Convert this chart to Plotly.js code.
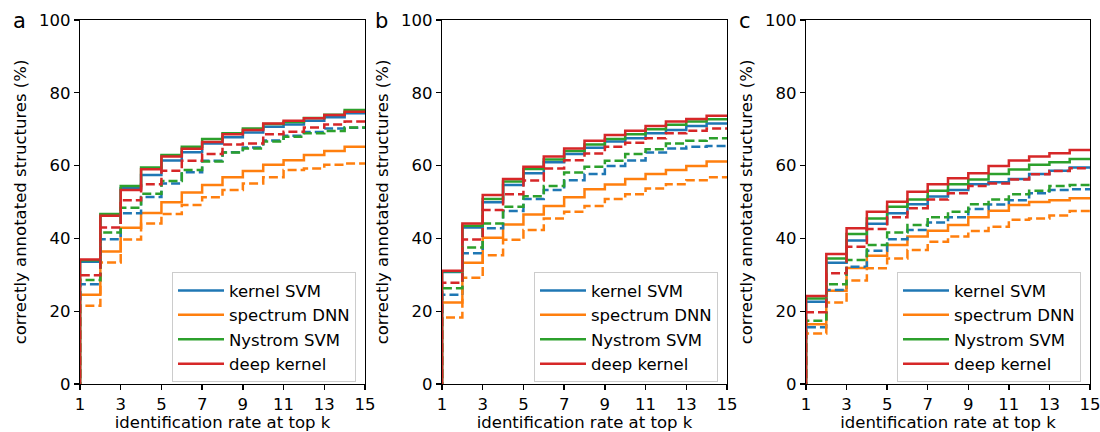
<!DOCTYPE html>
<html>
<head>
<meta charset="utf-8">
<script src="https://cdn.plot.ly/plotly-3.0.1.min.js"></script>
<style>html,body{margin:0;padding:0;background:#fff;}#chart{width:1100px;height:432px;}</style>
</head>
<body>
<div id="chart"></div>
<script>
// top-k values (k = 1..14), percent of correctly annotated structures
const topK = [1,2,3,4,5,6,7,8,9,10,11,12,13,14];
const xTicks = [1,3,5,7,9,11,13,15];
const yTicks = [0,20,40,60,80,100];
const methods = ["kernel SVM","spectrum DNN","Nystrom SVM","deep kernel"];
const panelLetters = ["a","b","c"];

// Panel a
const aKernelSVM      = [33.6,46.3,53.8,57.4,61.4,63.7,66.1,67.8,69.1,70.7,71.3,72.3,73.3,74.4];
const aSpectrumDNN    = [24.5,36.4,42.9,47.0,49.9,52.6,54.7,56.8,58.5,60.2,61.5,62.9,64.0,65.2];
const aNystromSVM     = [34.0,46.7,54.4,59.5,62.9,65.2,67.3,68.9,70.2,71.4,72.0,73.1,74.0,75.3];
const aDeepKernel     = [34.2,46.2,53.3,59.0,62.5,64.6,66.5,68.6,69.8,71.6,72.3,73.0,73.9,74.8];
const aKernelSVM2     = [27.4,39.8,46.9,51.4,55.1,58.2,61.3,63.7,65.0,66.9,68.2,69.2,70.2,70.4];
const aSpectrumDNN2   = [21.5,33.4,39.7,44.1,46.7,49.2,51.3,53.3,55.1,56.8,58.8,59.2,60.2,60.6];
const aNystromSVM2    = [28.6,41.6,48.4,52.3,55.8,58.8,61.1,63.6,64.7,66.6,67.9,68.9,69.5,70.5];
const aDeepKernel2    = [29.9,43.0,50.5,54.9,58.6,61.3,63.2,65.8,66.1,68.6,69.3,70.5,71.3,72.1];

// Panel b
const bKernelSVM      = [30.8,43.0,49.9,54.7,57.9,60.9,63.2,64.9,66.6,67.5,68.9,69.8,70.9,71.6];
const bSpectrumDNN    = [22.4,33.3,40.2,43.8,46.6,48.9,51.3,53.5,54.8,56.3,57.7,58.8,59.9,61.1];
const bNystromSVM     = [31.0,43.5,50.8,55.6,59.1,61.7,64.0,65.8,67.3,68.6,70.0,71.2,72.1,72.7];
const bDeepKernel     = [31.1,44.1,51.9,56.3,59.7,62.5,64.7,66.8,68.4,69.6,70.9,72.1,72.8,73.7];
const bKernelSVM2     = [24.5,35.9,42.8,47.5,50.8,53.3,56.0,57.7,59.9,61.4,63.6,64.7,65.2,65.4];
const bSpectrumDNN2   = [18.3,29.2,35.4,39.6,42.3,45.5,47.3,48.9,50.8,52.1,53.7,54.9,56.0,56.8];
const bNystromSVM2    = [26.3,37.5,44.1,48.7,51.6,54.4,58.1,59.7,61.3,63.2,64.5,66.1,66.8,67.5];
const bDeepKernel2    = [27.8,39.7,47.8,52.1,55.9,59.2,61.5,63.3,65.2,66.3,67.5,68.9,69.6,70.2];

// Panel c
const cKernelSVM      = [22.6,33.3,39.4,44.0,46.9,49.4,51.5,53.3,54.9,55.4,56.3,57.7,58.6,59.5];
const cSpectrumDNN    = [16.4,25.6,31.9,35.2,38.2,40.5,42.1,43.7,45.8,47.6,49.2,50.0,50.5,51.0];
const cNystromSVM     = [23.5,34.5,41.2,45.5,48.7,50.7,53.1,54.9,56.2,57.7,58.9,60.2,60.9,61.8];
const cDeepKernel     = [24.2,35.7,42.8,47.3,50.1,52.8,54.9,56.5,57.9,59.9,61.4,62.5,63.4,64.3];
const cKernelSVM2     = [15.6,25.8,32.2,36.6,39.8,42.3,44.4,45.8,48.1,49.3,50.5,52.4,53.3,53.5];
const cSpectrumDNN2   = [13.9,22.4,28.4,31.8,34.5,36.8,39.1,40.5,42.0,43.2,45.1,45.5,46.3,47.5];
const cNystromSVM2    = [17.4,27.4,34.1,38.2,41.6,43.7,45.8,47.3,49.4,50.7,52.1,53.1,54.4,54.7];
const cDeepKernel2    = [19.7,30.4,37.7,42.6,45.8,48.3,50.7,52.4,54.4,55.1,56.2,57.6,58.5,59.3];

const panels = [
  {solid:[aKernelSVM,aSpectrumDNN,aNystromSVM,aDeepKernel], dashed:[aKernelSVM2,aSpectrumDNN2,aNystromSVM2,aDeepKernel2]},
  {solid:[bKernelSVM,bSpectrumDNN,bNystromSVM,bDeepKernel], dashed:[bKernelSVM2,bSpectrumDNN2,bNystromSVM2,bDeepKernel2]},
  {solid:[cKernelSVM,cSpectrumDNN,cNystromSVM,cDeepKernel], dashed:[cKernelSVM2,cSpectrumDNN2,cNystromSVM2,cDeepKernel2]}
];

const colors = ["#1f77b4","#ff7f0e","#2ca02c","#d62728"];
const FONT = "DejaVu Sans";
const FS = 16.5;
const LW = 2.5;

function stepXY(vals){
  // start from zero before k=1 and hold the last value to the right edge
  const x = [0].concat(topK).concat([15]);
  const y = [0].concat(vals).concat([vals[vals.length-1]]);
  return {x, y};
}

const traces = [];
const axSuffix = ["","2","3"];
const legNames = ["legend","legend2","legend3"];
panels.forEach((p, pi) => {
  const xa = "x" + axSuffix[pi], ya = "y" + axSuffix[pi];
  p.solid.forEach((vals, mi) => {
    const s = stepXY(vals);
    traces.push({x:s.x, y:s.y, xaxis:xa, yaxis:ya, mode:"lines", type:"scatter",
      name:methods[mi], legend:legNames[pi], showlegend:true, hoverinfo:"skip",
      line:{shape:"hv", color:colors[mi], width:LW}});
  });
  p.dashed.forEach((vals, mi) => {
    const s = stepXY(vals);
    traces.push({x:s.x, y:s.y, xaxis:xa, yaxis:ya, mode:"lines", type:"scatter",
      name:methods[mi], legend:legNames[pi], showlegend:false, hoverinfo:"skip",
      line:{shape:"hv", color:colors[mi], width:LW, dash:"9px,4px"}});
  });
});

const W = 1100;
const domains = [[80/W, 365/W],[442/W, 727/W],[806/W, 1090/W]];
const layout = {
  width:1100, height:432,
  margin:{l:0, r:0, t:20, b:48},
  paper_bgcolor:"#ffffff", plot_bgcolor:"#ffffff",
  font:{family:FONT, size:FS, color:"#000000"},
  annotations:[], showlegend:true
};
const axisCommon = {
  showline:true, mirror:true, linecolor:"#000000", linewidth:1.3,
  ticks:"outside", ticklen:5, tickwidth:1.3, tickcolor:"#000000",
  showgrid:false, zeroline:false, automargin:false, ticklabeloverflow:"allow",
  tickfont:{family:FONT, size:FS, color:"#000000"}
};
panels.forEach((p, pi) => {
  const s = axSuffix[pi];
  layout["xaxis"+s] = Object.assign({}, axisCommon, {
    domain:domains[pi], range:[1,15], anchor:"y"+s,
    tickmode:"array", tickvals:xTicks, ticktext:xTicks.map(String),
    title:{text:"identification rate at top k", font:{family:FONT, size:FS, color:"#000000"}, standoff:2}
  });
  layout["yaxis"+s] = Object.assign({}, axisCommon, {
    domain:[0,1], range:[0,100], anchor:"x"+s,
    tickmode:"array", tickvals:yTicks, ticktext:yTicks.map(String),
    title:{text:"correctly annotated structures (%)", font:{family:FONT, size:FS, color:"#000000"}, standoff:8}
  });
  layout[legNames[pi]] = {
    x:(domains[pi][1]*W - 9)/W, y:0.005, xanchor:"right", yanchor:"bottom",
    xref:"paper", yref:"paper",
    bgcolor:"rgba(255,255,255,0.8)", bordercolor:"#cccccc", borderwidth:1,
    font:{family:FONT, size:FS, color:"#000000"}, itemwidth:46,
    traceorder:"normal"
  };
  layout.annotations.push({
    text:panelLetters[pi], xref:"paper", yref:"paper",
    x:(domains[pi][0]*W - 61)/W, y:1, xanchor:"center", yanchor:"middle",
    yshift:-1, showarrow:false, font:{family:FONT, size:21, color:"#000000"}
  });
});

Plotly.newPlot("chart", traces, layout, {staticPlot:true, displayModeBar:false});
</script>
</body>
</html>
